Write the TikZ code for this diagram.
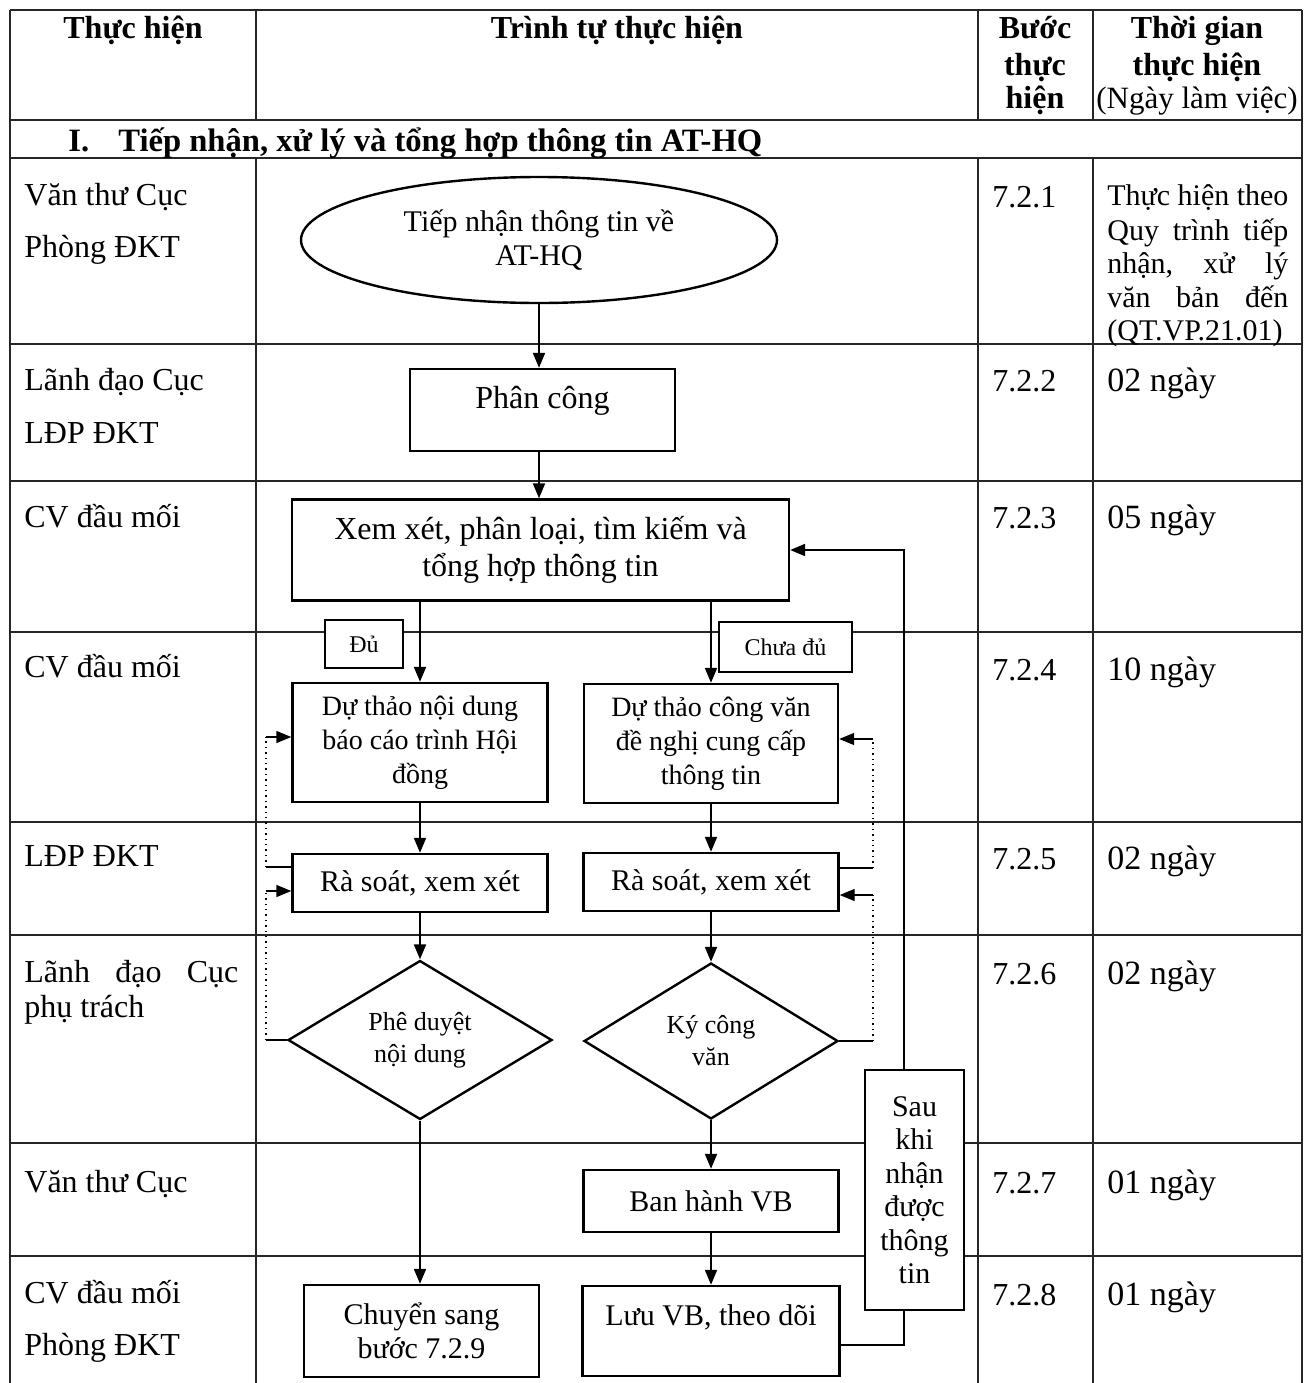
\documentclass[tikz,border=0pt]{standalone}
\usepackage{fontspec}
\setmainfont{Liberation Serif}
\usetikzlibrary{shapes.geometric,arrows.meta}
\begin{document}
\begin{tikzpicture}[x=0.5pt,y=-0.5pt,
  tbl/.style={line width=0.8pt,black!85},
  fbox/.style={draw,line width=1.2pt,fill=white,rectangle,inner sep=0pt,align=center},
  arr/.style={line width=1pt,-{Triangle[length=7.5pt,width=6pt]}},
  arrthin/.style={line width=0.7pt,-{Triangle[length=7.5pt,width=6pt]}},
  lp/.style={line width=0.7pt},
  dotl/.style={line width=0.7pt,dotted},
  tx/.style={anchor=base west,inner sep=0pt,font=\fontsize{16}{17}\selectfont},
  txd/.style={anchor=base west,inner sep=0pt,font=\fontsize{17}{18}\selectfont},
  txs/.style={anchor=base west,inner sep=0pt,font=\fontsize{15}{17}\selectfont},
  hd/.style={anchor=base,inner sep=0pt,font=\bfseries\fontsize{16}{17}\selectfont},
]
\useasboundingbox (0,0) rectangle (1311,1383);
% ---------------- table grid
\foreach \y in {10,120,158,344,481,632,822,935,1143,1256}
  \draw[tbl] (10,\y) -- (1302,\y);
\draw[tbl] (10,10) -- (10,1383);
\draw[tbl] (1302,10) -- (1302,1383);
\foreach \x in {256,978,1093} {
  \draw[tbl] (\x,10) -- (\x,120);
  \draw[tbl] (\x,158) -- (\x,1383);
}
% ---------------- header
\node[hd] (h1) at (133,38) {Thực hiện};
\node[hd] (h2) at (617,38) {Trình tự thực hiện};
\node[hd] (h3a) at (1035,38) {Bước};
\node[hd] (h3b) at (1035,75) {thực};
\node[hd] (h3c) at (1035,108) {hiện};
\node[hd] (h4a) at (1197,38) {Thời gian};
\node[hd] (h4b) at (1197,75) {thực hiện};
\node[anchor=base,inner sep=0pt,font=\fontsize{15.5}{17}\selectfont] (h4c) at (1197,108) {(Ngày làm việc)};
\node[anchor=base west,inner sep=0pt,font=\bfseries\fontsize{16.3}{17}\selectfont] (secI) at (68,151) {I.};
\node[anchor=base west,inner sep=0pt,font=\bfseries\fontsize{16.3}{17}\selectfont] (sec) at (118,151) {Tiếp nhận, xử lý và tổng hợp thông tin AT-HQ};
% ---------------- column 1
\node[tx] (c1a) at (24,205) {Văn thư Cục};
\node[tx] (c1b) at (24,257) {Phòng ĐKT};
\node[tx] (c2a) at (24,390) {Lãnh đạo Cục};
\node[tx] (c2b) at (24,443) {LĐP ĐKT};
\node[tx] (c3) at (24,527) {CV đầu mối};
\node[tx] (c4) at (24,677) {CV đầu mối};
\node[tx] (c5) at (24,866) {LĐP ĐKT};
\node[tx] (c6a) at (24,982) {\hbox to 107pt{Lãnh\hfill đạo\hfill Cục}};
\node[tx] (c6b) at (24,1017) {phụ trách};
\node[tx] (c7) at (24,1192) {Văn thư Cục};
\node[tx] (c8a) at (24,1303) {CV đầu mối};
\node[tx] (c8b) at (24,1355) {Phòng ĐKT};
% ---------------- column 3
\node[tx] (s1) at (992,207) {7.2.1};
\node[tx] (s2) at (992,391) {7.2.2};
\node[tx] (s3) at (992,528) {7.2.3};
\node[tx] (s4) at (992,680) {7.2.4};
\node[tx] (s5) at (992,869) {7.2.5};
\node[tx] (s6) at (992,984) {7.2.6};
\node[tx] (s7) at (992,1193) {7.2.7};
\node[tx] (s8) at (992,1305) {7.2.8};
% ---------------- column 4
\node[txs] (d1a) at (1107,205) {\hbox to 90.5pt{Thực\hfill hiện\hfill theo}};
\node[txs] (d1b) at (1107,240) {\hbox to 90.5pt{Quy\hfill trình\hfill tiếp}};
\node[txs] (d1c) at (1107,273) {\hbox to 90.5pt{nhận,\hfill xử\hfill lý}};
\node[txs] (d1d) at (1107,307) {\hbox to 90.5pt{văn\hfill bản\hfill đến}};
\node[txs] (d1e) at (1107,340) {(QT.VP.21.01)};
\node[txd] (d2) at (1107,391) {02 ngày};
\node[txd] (d3) at (1107,528) {05 ngày};
\node[txd] (d4) at (1107,680) {10 ngày};
\node[txd] (d5) at (1107,869) {02 ngày};
\node[txd] (d6) at (1107,984) {02 ngày};
\node[txd] (d7) at (1107,1193) {01 ngày};
\node[txd] (d8) at (1107,1305) {01 ngày};
% ---------------- flowchart nodes
\node[fbox,ellipse,minimum width=238pt,minimum height=63pt,font=\fontsize{15}{17}\selectfont] (ell) at (539,240) {Tiếp nhận thông tin về\\AT-HQ};
\node[fbox,minimum width=132.5pt,minimum height=41pt,font=\fontsize{16}{18}\selectfont,text height=12pt,text depth=14pt] (phan) at (542.5,410) {Phân công};
\node[fbox,minimum width=248.5pt,minimum height=50.5pt,font=\fontsize{16}{18.5}\selectfont] (xem) at (540.5,550) {Xem xét, phân loại, tìm kiếm và\\tổng hợp thông tin};
\node[fbox,minimum width=39pt,minimum height=24pt,font=\fontsize{12}{14}\selectfont] (du) at (364,644) {Đủ};
\node[fbox,minimum width=66.5pt,minimum height=25pt,font=\fontsize{12}{14}\selectfont] (chuadu) at (785.5,647) {Chưa đủ};
\node[fbox,minimum width=127.5pt,minimum height=59.5pt,font=\fontsize{14}{17}\selectfont] (dt1) at (420,742.5) {Dự thảo nội dung\\báo cáo trình Hội\\đồng};
\node[fbox,minimum width=127pt,minimum height=59.5pt,font=\fontsize{14}{17}\selectfont] (dt2) at (711,743.5) {Dự thảo công văn\\đề nghị cung cấp\\thông tin};
\node[fbox,minimum width=127.5pt,minimum height=29pt,font=\fontsize{15}{17}\selectfont] (rs1) at (420,883) {Rà soát, xem xét};
\node[fbox,minimum width=127.5pt,minimum height=29pt,font=\fontsize{15}{17}\selectfont] (rs2) at (711,882) {Rà soát, xem xét};
\node[fbox,diamond,minimum width=132pt,minimum height=78pt,font=\fontsize{13}{16}\selectfont] (pd) at (420,1040) {Phê duyệt\\nội dung};
\node[fbox,diamond,minimum width=127pt,minimum height=78pt,font=\fontsize{13}{16}\selectfont] (ky) at (711,1041) {Ký công\\văn};
\node[fbox,minimum width=127.5pt,minimum height=31pt,font=\fontsize{15}{17}\selectfont] (ban) at (711,1201) {Ban hành VB};
\node[fbox,minimum width=117.5pt,minimum height=46pt,font=\fontsize{15}{17}\selectfont] (ch) at (421.5,1331) {Chuyển sang\\bước 7.2.9};
\node[fbox,minimum width=128.5pt,minimum height=45pt,font=\fontsize{15}{17}\selectfont,text height=11pt,text depth=17pt] (luu) at (711,1331) {Lưu VB, theo dõi};
% ---------------- main connectors
\draw[arr] (ell.south) -- (ell.south |- phan.north);
\draw[arr] (phan.south -| ell.south) -- (ell.south |- xem.north);
\draw[arr] (xem.south -| dt1.north) -- (dt1.north);
\draw[arr] (xem.south -| dt2.north) -- (dt2.north);
\draw[arr] (dt1.south) -- (rs1.north);
\draw[arr] (rs1.south) -- (pd.north);
\draw[arr] (pd.south) -- (pd.south |- ch.north);
\draw[arr] (dt2.south) -- (rs2.north);
\draw[arr] (rs2.south) -- (ky.north);
\draw[arr] (ky.south) -- (ban.north);
\draw[arr] (ban.south) -- (luu.north);
% feedback
\draw[arr] ([yshift=-7pt]luu.east) -| ([xshift=57pt]xem.east) -- (xem.east);
% ---------------- dotted return loops
\coordinate (L1a) at (266,867);
\coordinate (L1b) at (266,737);
\draw[lp] ([yshift=8pt]rs1.west) -- (L1a);
\draw[dotl] (L1a) -- (L1b);
\draw[arrthin] (L1b) -- (L1b -| dt1.west);
\coordinate (L2a) at (266,1040);
\coordinate (L2b) at (266,891);
\draw[lp] (pd.west) -- (L2a);
\draw[dotl] (L2a) -- (L2b);
\draw[arrthin] (L2b) -- (L2b -| rs1.west);
\coordinate (R1a) at (873,868);
\coordinate (R1b) at (873,739);
\draw[lp] ([yshift=7pt]rs2.east) -- (R1a);
\draw[dotl] (R1a) -- (R1b);
\draw[arrthin] (R1b) -- (R1b -| dt2.east);
\coordinate (R2a) at (873,1041);
\coordinate (R2b) at (873,895);
\draw[lp] (ky.east) -- (R2a);
\draw[dotl] (R2a) -- (R2b);
\draw[arrthin] (R2b) -- (R2b -| rs2.east);
% ---------------- note box (over feedback line)
\node[fbox,minimum width=49.5pt,minimum height=120pt,font=\fontsize{15}{16.75}\selectfont] (sau) at (914.5,1190) {Sau\\khi\\nhận\\được\\thông\\tin};
\end{tikzpicture}
\end{document}
